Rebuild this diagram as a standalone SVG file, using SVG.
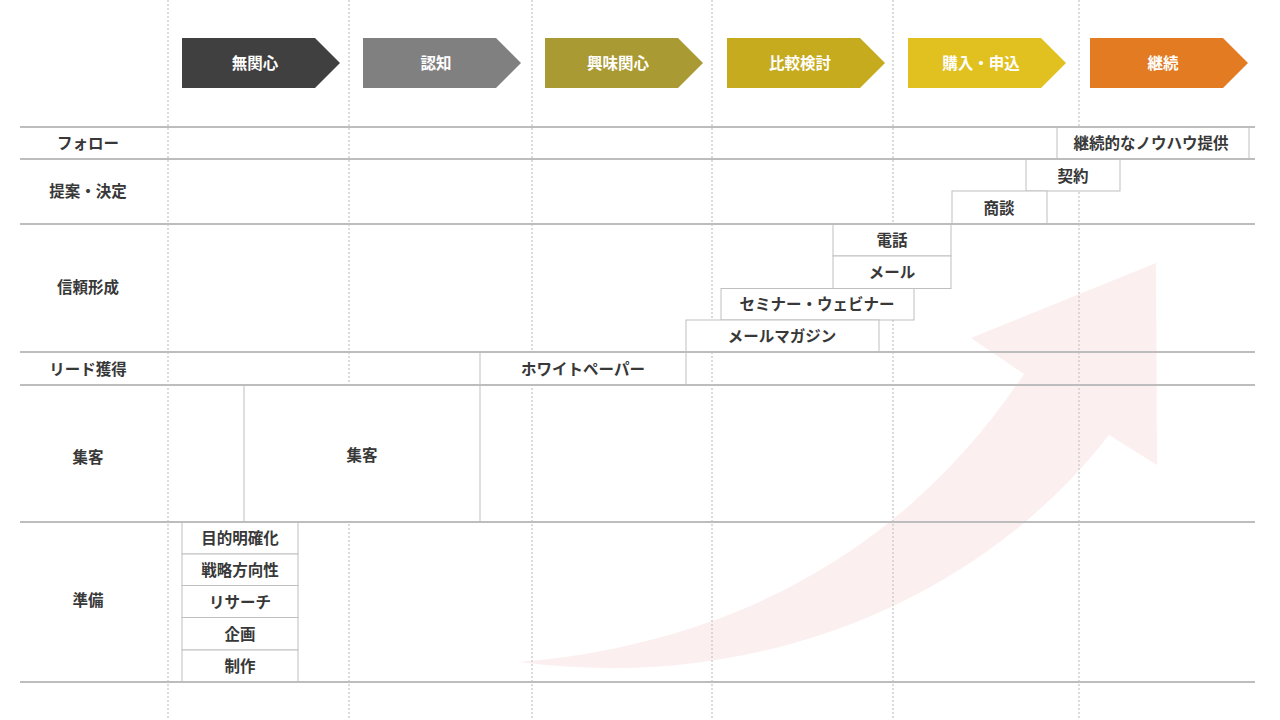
<svg xmlns="http://www.w3.org/2000/svg" width="1280" height="720" viewBox="0 0 1280 720">
<style>
text{font-family:"Noto Sans CJK JP","Noto Sans",sans-serif;font-size:15.5px;font-weight:bold;text-anchor:middle;dominant-baseline:central;fill:#383838}
.hd{fill:#fff}
.vl{stroke:#cfcfcf;stroke-width:1.5;stroke-dasharray:2 2;fill:none}
.hl{stroke:#bdbdbd;stroke-width:2;fill:none}
.bx{fill:#fff;stroke:#bfbfbf;stroke-width:1}
</style>
<rect width="1280" height="720" fill="#fff"/>
<g id="big-arrow">
<path d="M519,662 C720,645 900,560 1024,374 L971,338 L1156,263 L1157,465 L1109,435 C980,600 780,672 600,668 C570,667 540,665 519,662 Z" fill="#fcefef"/>
</g>
<g id="grid">
<line class="vl" x1="168" y1="0" x2="168" y2="720"/>
<line class="vl" x1="349" y1="0" x2="349" y2="720"/>
<line class="vl" x1="532" y1="0" x2="532" y2="720"/>
<line class="vl" x1="712" y1="0" x2="712" y2="720"/>
<line class="vl" x1="893" y1="0" x2="893" y2="720"/>
<line class="vl" x1="1079" y1="0" x2="1079" y2="720"/>
</g>
<g id="stages">
<g id="stage-1"><path d="M182,38H315L340,63L315,88H182Z" fill="#404040"/><text class="hd" x="255" y="61.5">無関心</text></g>
<g id="stage-2"><path d="M363,38H496L521,63L496,88H363Z" fill="#808080"/><text class="hd" x="436" y="61.5">認知</text></g>
<g id="stage-3"><path d="M545,38H678L703,63L678,88H545Z" fill="#aa9a34"/><text class="hd" x="618" y="61.5">興味関心</text></g>
<g id="stage-4"><path d="M727,38H860L885,63L860,88H727Z" fill="#c6ab1f"/><text class="hd" x="800" y="61.5">比較検討</text></g>
<g id="stage-5"><path d="M908,38H1041L1066,63L1041,88H908Z" fill="#e1c11f"/><text class="hd" x="981" y="61.5">購入・申込</text></g>
<g id="stage-6"><path d="M1090,38H1223L1248,63L1223,88H1090Z" fill="#e27b22"/><text class="hd" x="1163" y="61.5">継続</text></g>
</g>
<g id="row-labels">
<text x="88" y="141.5">フォロー</text>
<text x="88" y="189.5">提案・決定</text>
<text x="88" y="285.5">信頼形成</text>
<text x="88" y="367.5">リード獲得</text>
<text x="88" y="455.5">集客</text>
<text x="88" y="598.5">準備</text>
</g>
<g id="connectors"></g>
<g id="n-know-how"><rect class="bx" x="1057" y="127" width="192" height="32"/><text x="1151" y="141.5">継続的なノウハウ提供</text></g>
<g id="n-contract"><rect class="bx" x="1026" y="159" width="94" height="32"/><text x="1073" y="174.5">契約</text></g>
<g id="n-negotiation"><rect class="bx" x="952" y="191" width="95" height="33"/><text x="999" y="206.5">商談</text></g>
<g id="n-phone"><rect class="bx" x="833" y="224" width="118" height="32"/><text x="892" y="238.5">電話</text></g>
<g id="n-mail"><rect class="bx" x="833" y="256" width="118" height="32.5"/><text x="892" y="270.5">メール</text></g>
<g id="n-seminar"><rect class="bx" x="721" y="288.5" width="193" height="31.5"/><text x="817" y="302.5">セミナー・ウェビナー</text></g>
<g id="n-mailmag"><rect class="bx" x="686" y="320" width="193" height="32"/><text x="782" y="334.5">メールマガジン</text></g>
<g id="n-whitepaper"><rect class="bx" x="480" y="352" width="206" height="33"/><text x="583" y="367.5">ホワイトペーパー</text></g>
<g id="n-attract"><rect class="bx" x="244" y="385" width="236" height="137"/><text x="362" y="453.5">集客</text></g>
<g id="n-purpose"><rect class="bx" x="182" y="522" width="116" height="32"/><text x="240" y="536.5">目的明確化</text></g>
<g id="n-strategy"><rect class="bx" x="182" y="554" width="116" height="31.5"/><text x="240" y="568.5">戦略方向性</text></g>
<g id="n-research"><rect class="bx" x="182" y="585.5" width="116" height="32"/><text x="240" y="600.5">リサーチ</text></g>
<g id="n-plan"><rect class="bx" x="182" y="617.5" width="116" height="32.5"/><text x="240" y="632.5">企画</text></g>
<g id="n-production"><rect class="bx" x="182" y="650" width="116" height="32"/><text x="240" y="664.5">制作</text></g>
<g id="grid-lines">
<line class="hl" x1="20" y1="127" x2="1255" y2="127"/>
<line class="hl" x1="20" y1="159" x2="1255" y2="159"/>
<line class="hl" x1="20" y1="224" x2="1255" y2="224"/>
<line class="hl" x1="20" y1="352" x2="1255" y2="352"/>
<line class="hl" x1="20" y1="385" x2="1255" y2="385"/>
<line class="hl" x1="20" y1="522" x2="1255" y2="522"/>
<line class="hl" x1="20" y1="682" x2="1255" y2="682"/>
</g>
</svg>
